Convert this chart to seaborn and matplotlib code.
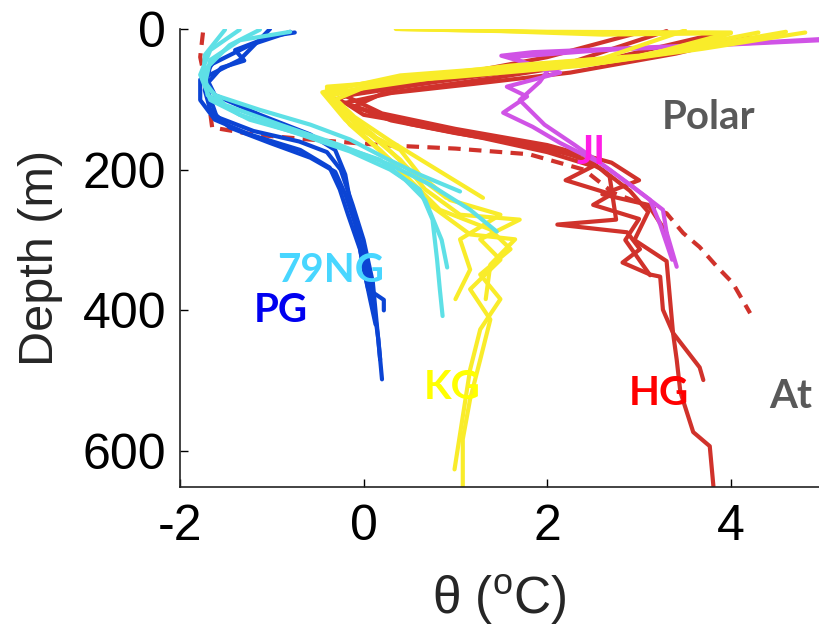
import pandas as pd
import matplotlib
matplotlib.use("Agg")
import matplotlib.pyplot as plt
import seaborn as sns

# temperature (deg C) / depth (m) profiles
pg_temp = [
    [-0.80, -1.24, -1.67, -1.73, -1.67, -1.46, -1.02, -0.58, -0.31, -0.20, -0.09, 0.02, 0.10, 0.16, 0.20],
    [-1.02, -1.35, -1.78, -1.78, -1.62, -1.24, -0.69, -0.37, -0.26, -0.17, -0.04, 0.05, 0.22, 0.22],
    [-1.62, -1.73, -1.62, -1.13, -0.58, -0.31, -0.20, -0.15, -0.07, -0.02, 0.07, 0.13],
    [-0.75, -1.00, -1.40, -1.30, -1.55, -1.72, -1.60, -1.20, -0.70, -0.40, -0.25, -0.12, 0.00, 0.10, 0.18],
]
pg_depth = [
    [4, 23, 51, 87, 115, 140, 162, 183, 203, 235, 278, 328, 384, 441, 498],
    [0, 44, 72, 101, 129, 150, 172, 197, 228, 264, 313, 370, 385, 400],
    [44, 65, 94, 122, 150, 172, 207, 243, 285, 328, 384, 420],
    [5, 10, 30, 45, 55, 80, 125, 145, 160, 175, 200, 250, 300, 360, 470],
]

ng_temp = [
    [-1.51, -1.73, -1.75, -1.62, -1.13, -0.58, -0.15, 0.23, 0.61, 1.05],
    [-1.13, -1.46, -1.73, -1.70, -1.35, -0.69, -0.15, 0.29, 0.61, 0.75, 0.80, 0.83, 0.86],
    [-0.80, -1.35, -1.67, -1.73, -1.51, -0.91, -0.26, 0.29, 0.72, 1.16, 1.45],
    [-1.35, -1.67, -1.78, -1.67, -1.24, -0.47, 0.18, 0.45, 0.67, 0.85, 0.91],
]
ng_depth = [
    [1, 37, 72, 94, 115, 136, 157, 183, 207, 231],
    [1, 23, 58, 94, 122, 150, 174, 200, 228, 271, 328, 370, 408],
    [4, 16, 44, 79, 108, 136, 165, 193, 221, 257, 288],
    [1, 30, 65, 101, 129, 157, 186, 214, 243, 300, 339],
]

kg_temp = [
    [4.81, 3.70, 2.60, 1.50, 0.40, -0.40, -0.26, 0.07, 0.40, 0.67, 1.05, 1.70, 1.27, 1.49, 1.16, 1.38, 1.27, 1.16, 1.08, 1.08],
    [3.50, 2.60, 1.50, 0.40, -0.45, -0.20, 0.18, 0.50, 0.83, 1.38, 1.60, 1.27, 1.49, 1.27, 1.16, 0.99],
    [4.30, 3.00, 1.60, 0.30, -0.35, -0.04, 0.40, 0.61, 0.94, 1.49, 1.05, 1.16, 1.00],
    [0.40, 2.00, 4.00, 3.00, 1.00, -0.40, -0.15, 0.29, 0.72, 1.16, 1.65, 1.38, 1.33],
    [0.35, 1.50, 2.60, 4.00, 3.40, 2.40, 1.00, -0.40, -0.30, 0.10, 0.50, 0.90],
    [4.60, 3.90, 3.20, 2.20, 1.20, 0.10, -0.30, -0.10, 0.30, 0.80, 1.30],
]
kg_depth = [
    [5, 28, 48, 60, 70, 85, 115, 150, 186, 228, 264, 271, 299, 328, 370, 413, 470, 526, 583, 650],
    [2, 42, 55, 66, 90, 129, 172, 214, 257, 285, 313, 349, 384, 427, 484, 626],
    [5, 38, 52, 72, 95, 143, 172, 207, 243, 264, 299, 342, 384],
    [0, 4, 5, 40, 65, 92, 136, 186, 250, 292, 299, 335, 384],
    [0, 3, 8, 6, 32, 52, 68, 82, 110, 150, 200, 240],
    [4, 20, 36, 52, 64, 78, 100, 125, 160, 200, 240],
]

hg_temp = [
    [4.20, 3.40, 2.25, 1.20, 0.30, -0.20, 0.00, 0.80, 1.60, 2.10, 2.50, 2.68, 2.75, 2.11, 2.87, 3.01, 2.82, 3.12, 3.23, 3.26, 3.37, 3.41, 3.45, 3.59, 3.77, 3.81],
    [3.00, 2.00, 1.00, 0.00, -0.30, 0.30, 1.00, 1.80, 2.30, 2.60, 2.90, 3.10, 2.95, 3.30, 3.37, 3.66, 3.70],
    [3.80, 2.60, 1.40, 0.20, -0.10, 0.50, 1.30, 2.00, 2.50, 2.20, 2.70, 2.50, 3.00, 2.85, 3.12],
    [3.30, 2.20, 0.80, -0.20, 0.20, 1.00, 2.00, 2.70, 3.00, 2.60, 3.10, 3.30],
]
hg_depth = [
    [10, 35, 62, 78, 91, 105, 122, 140, 158, 172, 190, 210, 271, 278, 289, 313, 332, 349, 352, 399, 432, 470, 516, 573, 593, 650],
    [5, 40, 65, 88, 100, 130, 148, 165, 180, 200, 230, 260, 300, 330, 432, 481, 499],
    [8, 45, 70, 92, 110, 135, 155, 175, 195, 215, 235, 250, 270, 300, 350],
    [3, 50, 75, 95, 120, 142, 165, 190, 215, 235, 250, 290],
]
hg_dash_temp = [-1.75, -1.78, -1.70, -1.65, -1.20, -0.60, 0.20, 1.00, 1.80, 2.40, 2.72, 3.30, 3.48, 3.66, 3.85, 4.02, 4.21]
hg_dash_depth = [5, 40, 90, 140, 150, 157, 165, 170, 178, 200, 233, 262, 290, 310, 338, 361, 404]

ji_temp = [
    [5.30, 4.21, 3.12, 1.84, 1.50, 2.14, 1.56, 1.78, 1.52, 1.84, 2.14, 2.57, 2.93, 3.26, 3.30, 3.41],
    [5.30, 4.00, 2.60, 1.60, 2.00, 1.92, 1.70, 1.97, 2.30, 2.68, 3.12, 3.23, 3.36],
]
ji_depth = [
    [12, 20, 26, 33, 38, 62, 82, 96, 119, 139, 162, 190, 224, 257, 289, 338],
    [14, 22, 30, 40, 60, 75, 101, 136, 165, 200, 243, 278, 328],
]

groups = ["HG", "JI", "KG", "PG", "79NG"]
line_colors = {"HG": "#d0322b", "JI": "#d053e6", "KG": "#f9ec2a", "PG": "#0b44d4", "79NG": "#5ee0e6"}
label_colors = {"HG": "#ff0000", "JI": "#ff1ee6", "KG": "#ffff00", "PG": "#0000f0", "79NG": "#48d6ff"}


def to_frame(name, temps, depths):
    rows = []
    for k, (tt, dd) in enumerate(zip(temps, depths)):
        for i, (t, d) in enumerate(zip(tt, dd)):
            rows.append({"group": name, "profile": name + str(k), "i": i, "temp": t, "depth": d})
    return pd.DataFrame(rows)


def main():
    df = pd.concat([
        to_frame("HG", hg_temp, hg_depth),
        to_frame("JI", ji_temp, ji_depth),
        to_frame("KG", kg_temp, kg_depth),
        to_frame("PG", pg_temp, pg_depth),
        to_frame("79NG", ng_temp, ng_depth),
    ], ignore_index=True)
    dash = to_frame("HGd", [hg_dash_temp], [hg_dash_depth])

    sns.set_style("ticks")
    plt.rcParams["font.family"] = ["Liberation Sans", "DejaVu Sans"]
    plt.rcParams["mathtext.default"] = "regular"
    plt.rcParams["axes.unicode_minus"] = False

    fig = plt.figure(figsize=(8.19, 6.37), dpi=100)
    ax = fig.add_axes([0.2198, 0.2355, 0.7802, 0.719])

    sns.lineplot(data=dash, x="temp", y="depth", units="profile", estimator=None, sort=False,
                 color=line_colors["HG"], lw=3, linestyle=(0, (3, 2)), ax=ax, legend=False)
    for g in groups:
        sns.lineplot(data=df[df["group"] == g], x="temp", y="depth", units="profile",
                     estimator=None, sort=False, color=line_colors[g], lw=3, ax=ax, legend=False)

    ax.set_xlim(-2, 4.96)
    ax.set_ylim(651, 0)
    ax.set_xticks([-2, 0, 2, 4])
    ax.set_yticks([0, 200, 400, 600])
    ax.tick_params(direction="in", length=6, width=1, labelsize=36, pad=10, colors="black")
    ax.tick_params(axis="x", pad=12)
    sns.despine(ax=ax)
    for s in ["left", "bottom"]:
        ax.spines[s].set_linewidth(1.2)
        ax.spines[s].set_color("#222222")

    ax.set_xlabel(r"θ ($^{o}$C)", fontsize=37, labelpad=16)
    ax.set_ylabel("Depth (m)", fontsize=35, labelpad=14)

    lab = dict(fontfamily="Lato", fontweight="bold", fontsize=29, ha="center", va="center")
    ax.text(-0.36, 343, "79NG", color=label_colors["79NG"], **lab)
    ax.text(-0.90, 400, "PG", color=label_colors["PG"], **lab)
    ax.text(0.97, 510, "KG", color=label_colors["KG"], **lab)
    ax.text(3.22, 518, "HG", color=label_colors["HG"], **lab)
    ax.text(2.48, 176, "JI", color=label_colors["JI"], **lab)
    ax.text(3.76, 126, "Polar", color="#595959", **lab)
    ax.text(4.42, 522, "At", color="#595959", clip_on=False,
            **{**lab, "ha": "left"})

    fig.savefig("out.png", dpi=100)


if __name__ == "__main__":
    main()
